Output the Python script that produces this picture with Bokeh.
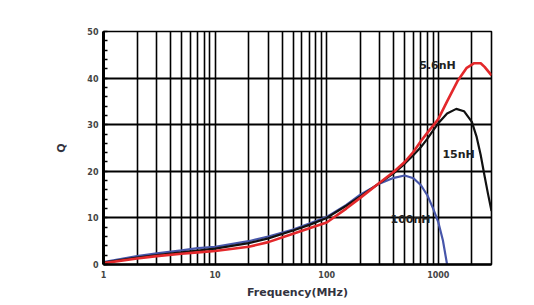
from bokeh.plotting import figure
from bokeh.models import FixedTicker, SingleIntervalTicker, PrintfTickFormatter, Range1d
from bokeh.core.properties import value
from bokeh.embed import file_html
from bokeh.resources import INLINE

# --- data ---
freq_red = [1, 2, 3, 5, 7, 10, 20, 30, 50, 70, 100, 150, 200, 300, 400, 500, 600, 700, 800, 900, 1000,
            1200, 1500, 1800, 2100, 2400, 2600, 3000]
q_red = [0.3, 1.3, 1.8, 2.3, 2.6, 2.9, 3.8, 4.8, 6.6, 7.8, 9.0, 12.0, 14.3, 17.6, 19.9, 22.0, 24.2, 26.5,
         28.3, 29.8, 31.2, 35.0, 39.5, 42.2, 43.2, 43.2, 42.4, 40.6]

freq_black = [1, 2, 3, 5, 7, 10, 20, 30, 50, 70, 100, 150, 200, 300, 400, 500, 600, 700, 800, 900, 1000,
              1200, 1450, 1700, 2000, 2200, 2400, 2600, 2800, 3000]
q_black = [0.4, 1.5, 2.0, 2.6, 3.0, 3.4, 4.6, 5.6, 7.3, 8.5, 10.0, 12.6, 14.6, 17.5, 19.6, 21.6, 23.5, 25.2,
           27.0, 28.8, 30.3, 32.4, 33.4, 32.9, 30.6, 27.5, 23.5, 19.0, 15.0, 11.5]

freq_blue = [1, 2, 3, 5, 7, 10, 20, 30, 50, 70, 100, 150, 200, 300, 400, 500, 600, 700, 800, 900, 1000,
             1100, 1200]
q_blue = [0.5, 1.8, 2.4, 3.05, 3.5, 3.8, 5.0, 6.0, 7.5, 8.8, 10.2, 12.8, 15.0, 17.4, 18.6, 19.1, 18.5,
          17.0, 14.8, 12.0, 9.1, 5.2, 0.0]

x_major_ticks = [1, 10, 100, 1000]
x_grid_ticks = [2, 3, 4, 5, 6, 7, 8, 9, 10, 20, 30, 40, 50, 60, 70, 80, 90, 100,
                200, 300, 400, 500, 600, 700, 800, 900, 1000, 2000]
y_grid_ticks = [10, 20, 30, 40]

label_text = ["5.6nH", "15nH", "100nH"]
label_x = [985, 1521, 564]
label_y = [42.7, 23.6, 9.7]

FONT = "DejaVu Sans"

p = figure(width=534, height=305, x_axis_type="log", output_backend="svg", toolbar_location=None,
           x_range=Range1d(1, 3000), y_range=Range1d(0, 50),
           min_border_left=103, min_border_right=43, min_border_top=31, min_border_bottom=41)
p.background_fill_color = "white"
p.border_fill_color = "white"
p.outline_line_color = "black"
p.outline_line_width = 1.6

# grids
p.xgrid.ticker = FixedTicker(ticks=x_grid_ticks)
p.xgrid.grid_line_color = "black"
p.xgrid.grid_line_width = 1.6
p.ygrid.ticker = FixedTicker(ticks=y_grid_ticks)
p.ygrid.grid_line_color = "black"
p.ygrid.grid_line_width = 2

# x axis
xa = p.xaxis[0]
xa.ticker = FixedTicker(ticks=x_major_ticks)
xa.formatter = PrintfTickFormatter(format="%d")
xa.major_tick_in = 0
xa.major_tick_out = 0
xa.minor_tick_in = 0
xa.minor_tick_out = 0
xa.axis_line_width = 2.5
xa.axis_line_color = "black"
xa.major_label_text_font = FONT
xa.major_label_text_font_style = "bold"
xa.major_label_text_font_size = "8px"
xa.major_label_text_color = "#444444"
xa.major_label_standoff = 6
xa.axis_label = "Frequency(MHz)"
xa.axis_label_text_font = FONT
xa.axis_label_text_font_style = "bold"
xa.axis_label_text_font_size = "11px"
xa.axis_label_text_color = "#333340"
xa.axis_label_standoff = 5

# y axis
ya = p.yaxis[0]
ya.ticker = SingleIntervalTicker(interval=10, num_minor_ticks=5)
ya.major_tick_in = 0
ya.major_tick_out = 0
ya.minor_tick_in = 4
ya.minor_tick_out = 0
ya.minor_tick_line_width = 1.5
ya.minor_tick_line_color = "black"
ya.axis_line_width = 3
ya.axis_line_color = "black"
ya.major_label_text_font = FONT
ya.major_label_text_font_style = "bold"
ya.major_label_text_font_size = "8px"
ya.major_label_text_color = "#444444"
ya.major_label_standoff = 5
ya.axis_label = "Q"
ya.axis_label_text_font = FONT
ya.axis_label_text_font_style = "bold"
ya.axis_label_text_font_size = "11px"
ya.axis_label_text_color = "#333340"
ya.axis_label_standoff = 16

# curves
p.line(freq_blue, q_blue, line_color="#4756aa", line_width=2.2)
p.line(freq_black, q_black, line_color="#111111", line_width=2.2)
p.line(freq_red, q_red, line_color="#e3282b", line_width=2.6)

# labels
p.text(x=label_x, y=label_y, text=label_text, text_font=value(FONT), text_font_style="bold",
       text_font_size="11px", text_color="#222222", text_align="center", text_baseline="middle")

open("out.html", "w").write(file_html(p, INLINE))
